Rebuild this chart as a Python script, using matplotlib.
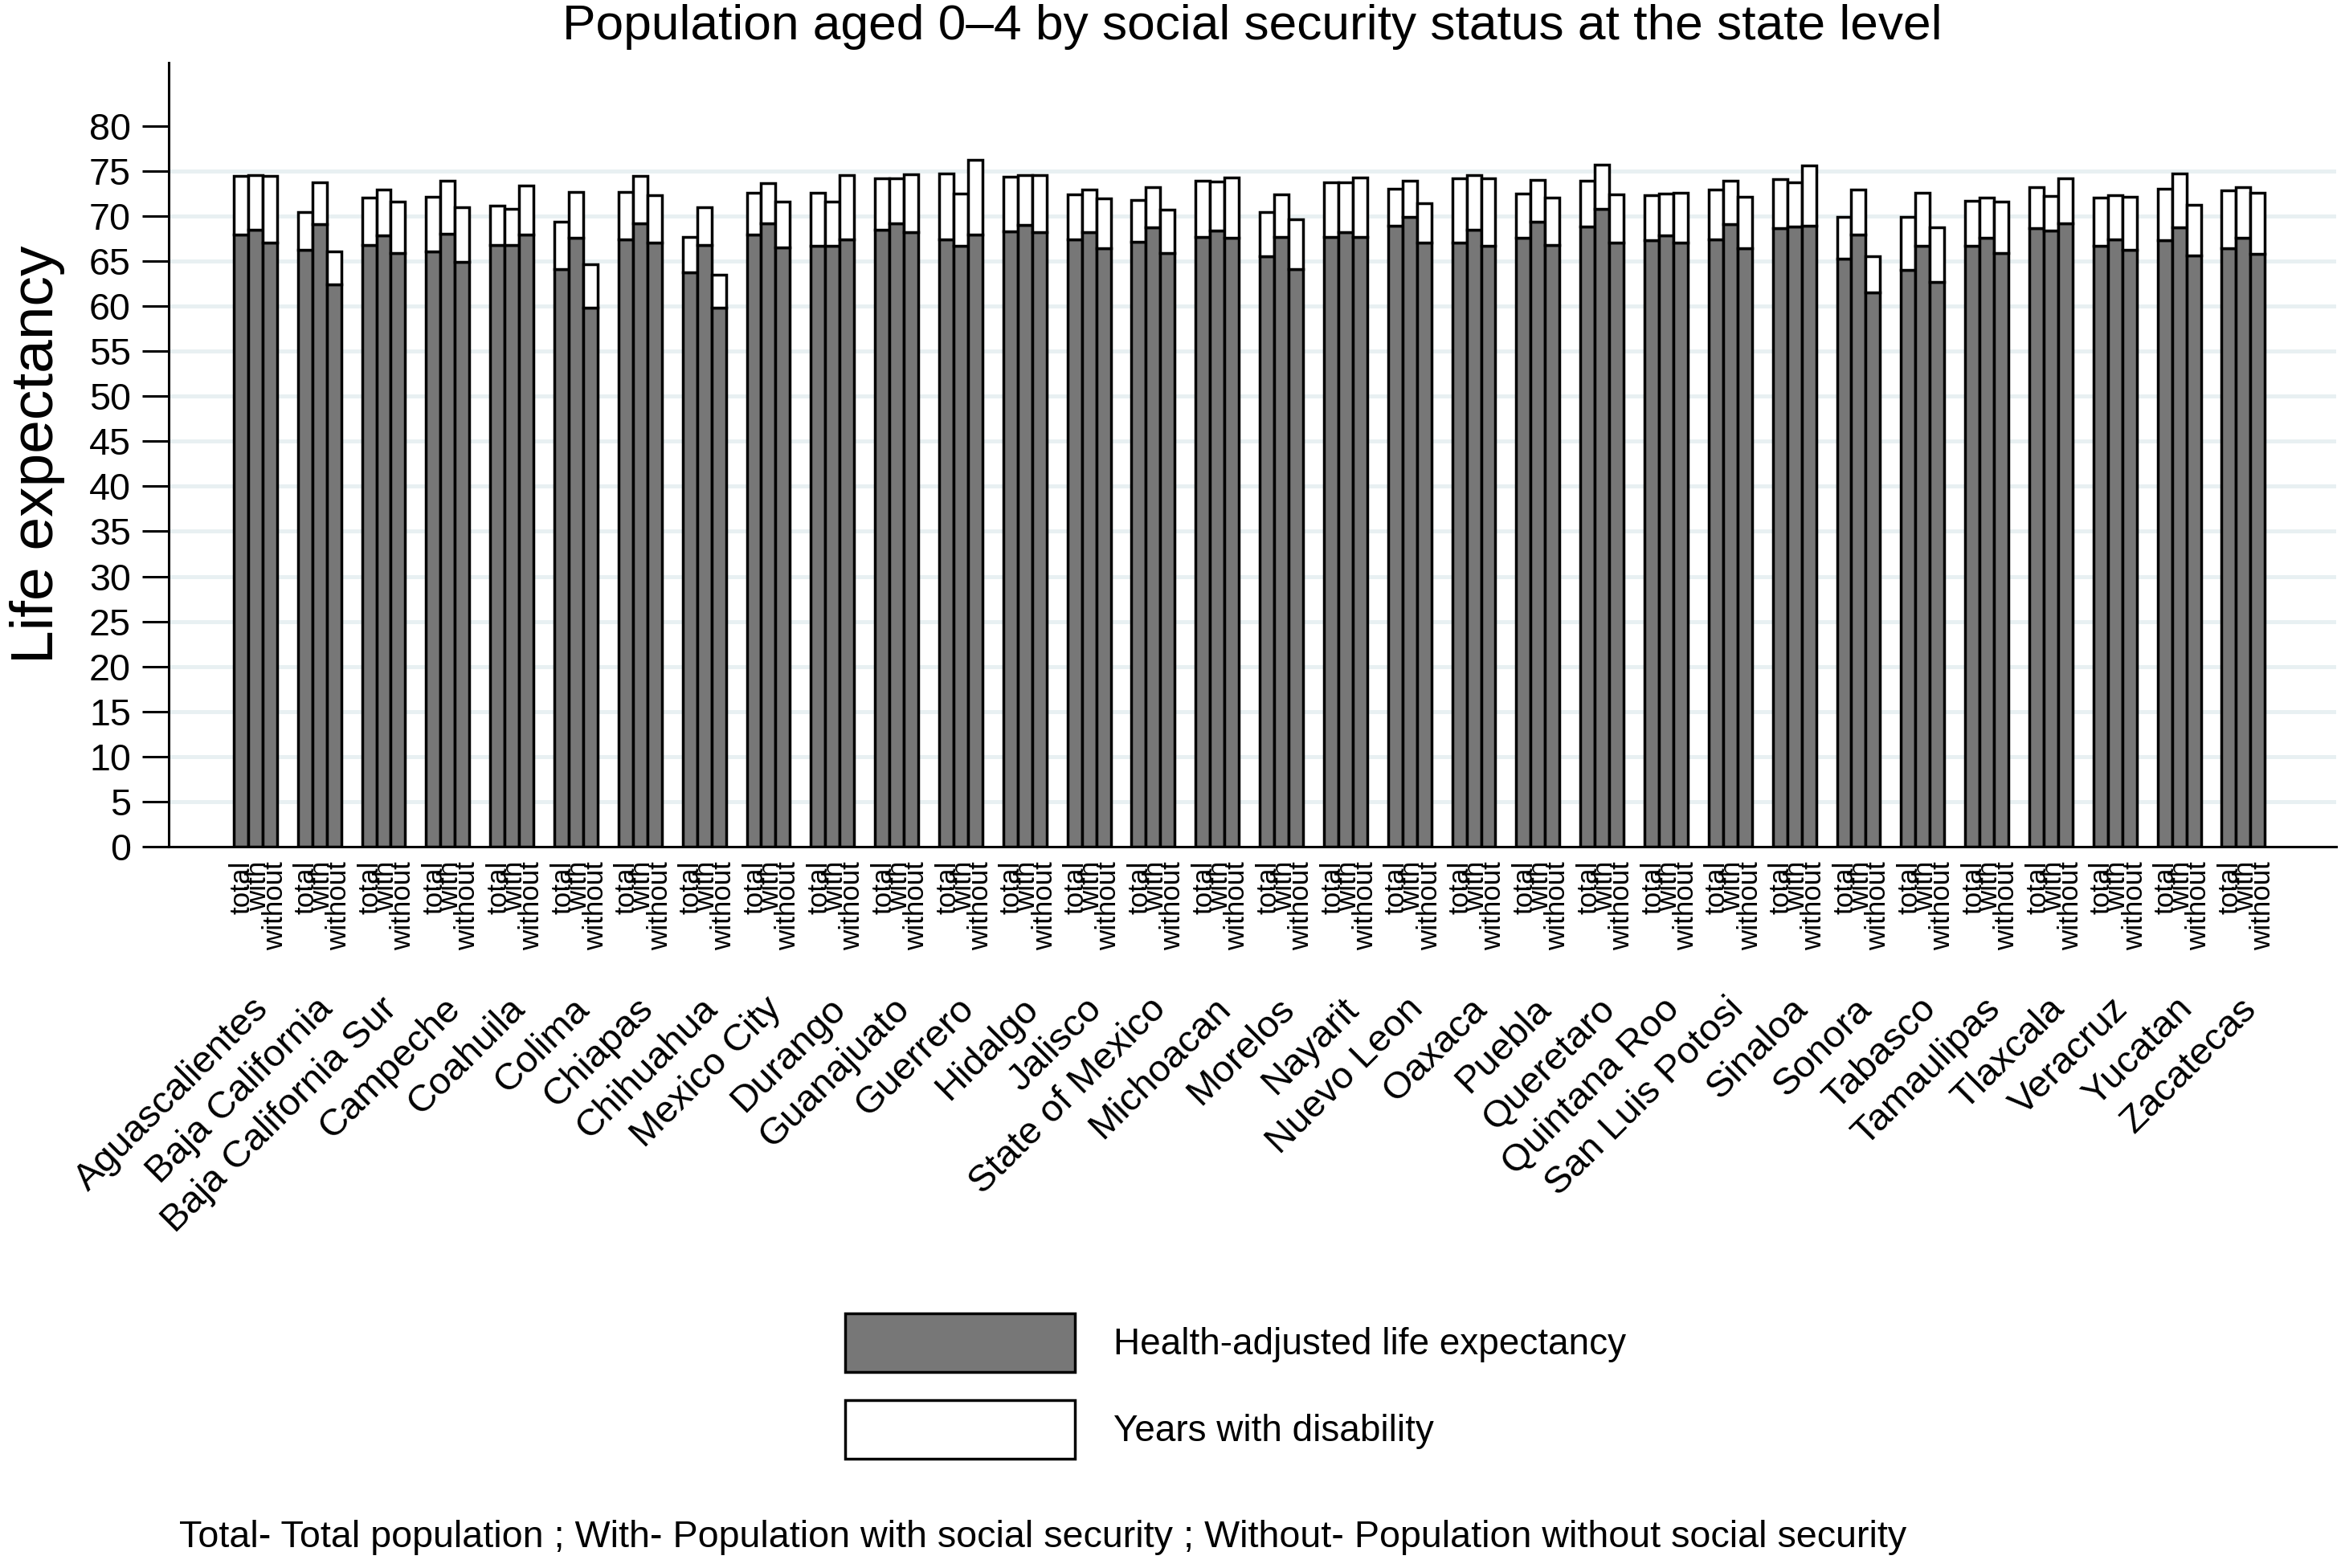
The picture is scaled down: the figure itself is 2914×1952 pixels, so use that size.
import numpy as np
import matplotlib
matplotlib.use("Agg")
import matplotlib.pyplot as plt
from matplotlib.patches import Patch
from matplotlib.transforms import blended_transform_factory

plt.rcParams['font.family'] = ['Liberation Sans', 'DejaVu Sans']

states = ["Aguascalientes", "Baja California", "Baja California Sur", "Campeche",
          "Coahuila", "Colima", "Chiapas", "Chihuahua", "Mexico City", "Durango",
          "Guanajuato", "Guerrero", "Hidalgo", "Jalisco", "State of Mexico",
          "Michoacan", "Morelos", "Nayarit", "Nuevo Leon", "Oaxaca", "Puebla",
          "Queretaro", "Quintana Roo", "San Luis Potosi", "Sinaloa", "Sonora",
          "Tabasco", "Tamaulipas", "Tlaxcala", "Veracruz", "Yucatan", "Zacatecas"]
groups = ["total", "with", "without"]

# life expectancy (top of bar)
le_total = [74.4, 70.4, 72.0, 72.1, 71.1, 69.35, 72.7, 67.7, 72.6, 72.6,
            74.2, 74.7, 74.35, 72.4, 71.8, 73.9, 70.4, 73.7, 73.0, 74.2,
            72.5, 73.9, 72.3, 72.9, 74.05, 69.9, 69.9, 71.7, 73.15, 72.0,
            73.0, 72.8]
le_with = [74.5, 73.75, 72.9, 73.9, 70.8, 72.7, 74.4, 71.0, 73.6, 71.6,
           74.2, 72.5, 74.55, 72.9, 73.2, 73.8, 72.4, 73.7, 73.9, 74.55,
           74.0, 75.7, 72.45, 73.9, 73.7, 72.9, 72.6, 72.0, 72.2, 72.3,
           74.7, 73.2]
le_without = [74.4, 66.1, 71.6, 71.0, 73.4, 64.6, 72.3, 63.5, 71.6, 74.55,
              74.6, 76.25, 74.5, 71.9, 70.7, 74.3, 69.6, 74.3, 71.4, 74.2,
              72.0, 72.4, 72.6, 72.1, 75.6, 65.5, 68.7, 71.6, 74.2, 72.1,
              71.2, 72.6]

# health-adjusted life expectancy
hale_total = [67.9, 66.2, 66.8, 66.1, 66.8, 64.1, 67.4, 63.7, 67.9, 66.7,
              68.45, 67.4, 68.3, 67.4, 67.1, 67.65, 65.5, 67.65, 68.9, 67.0,
              67.6, 68.8, 67.35, 67.4, 68.6, 65.3, 64.0, 66.7, 68.6, 66.7,
              67.3, 66.4]
hale_with = [68.5, 69.1, 67.8, 68.0, 66.8, 67.6, 69.2, 66.8, 69.2, 66.7,
             69.2, 66.7, 69.0, 68.2, 68.75, 68.4, 67.7, 68.2, 69.9, 68.45,
             69.4, 70.8, 67.8, 69.05, 68.8, 67.9, 66.7, 67.6, 68.4, 67.4,
             68.75, 67.6]
hale_without = [67.0, 62.4, 65.9, 64.9, 67.9, 59.8, 67.0, 59.8, 66.5, 67.4,
                68.2, 67.9, 68.2, 66.4, 65.9, 67.6, 64.1, 67.65, 67.0, 66.7,
                66.8, 67.0, 67.0, 66.4, 68.9, 61.5, 62.65, 65.9, 69.2, 66.2,
                65.6, 65.8]

le = np.array([le_total, le_with, le_without])
hale = np.array([hale_total, hale_with, hale_without])
yld = le - hale

fig = plt.figure(figsize=(14.57, 9.76), dpi=200)
ax = fig.add_axes([0.0721, 0.46, 0.9259, 0.50])

x = np.arange(len(states))
width = 0.225
offsets = [-width, 0.0, width]
lw = 1.25

for g in range(3):
    xpos = x + offsets[g]
    ax.bar(xpos, hale[g], width=width, color='#777777', edgecolor='black',
           linewidth=lw, zorder=3)
    ax.bar(xpos, yld[g], width=width, bottom=hale[g], color='white',
           edgecolor='black', linewidth=lw, zorder=3)

# light horizontal grid
for gy in range(5, 80, 5):
    ax.axhline(gy, color='#e8f0f2', linewidth=1.8, zorder=1)

ax.set_xlim(-1.35, 32.45)
ax.set_ylim(0, 87)
ax.set_yticks(range(0, 81, 5))
ax.set_xticks([])
ax.tick_params(axis='y', length=12, width=1.1, labelsize=16.8, pad=5)
for side in ['top', 'right']:
    ax.spines[side].set_visible(False)
for side in ['left', 'bottom']:
    ax.spines[side].set_linewidth(1.1)
ax.set_ylabel('Life expectancy', fontsize=27, va='center')
ax.yaxis.set_label_coords(-0.0608, 0.5)

trans = blended_transform_factory(ax.transData, ax.transAxes)
lab_shift = [0.02, 0.04, 0.08]
for i in range(len(states)):
    for g in range(3):
        ax.text(x[i] + offsets[g] + lab_shift[g], -0.018, groups[g],
                transform=trans, rotation=90, ha='center', va='top',
                fontsize=12.6)
    ax.text(x[i] + 0.12, -0.2, states[i], transform=trans, rotation=45,
            rotation_mode='anchor', ha='right', va='center', fontsize=17)

fig.text(0.535, 0.983, 'Population aged 0\u20134 by social security status at the state level',
         ha='center', va='center', fontsize=22.4)

handles = [Patch(facecolor='#777777', edgecolor='black', linewidth=lw),
           Patch(facecolor='white', edgecolor='black', linewidth=lw)]
fig.legend(handles, ['Health-adjusted life expectancy', 'Years with disability'],
           loc='upper left', bbox_to_anchor=(0.361, 0.1624), frameon=False,
           fontsize=16.5, handlelength=6.24, handleheight=2.075,
           labelspacing=0.76, handletextpad=1.05, borderpad=0, borderaxespad=0)

fig.text(0.0765, 0.0195,
         'Total- Total population ; With- Population with social security ; '
         'Without- Population without social security',
         ha='left', va='center', fontsize=16.8)

fig.savefig('out.png', dpi=200)
